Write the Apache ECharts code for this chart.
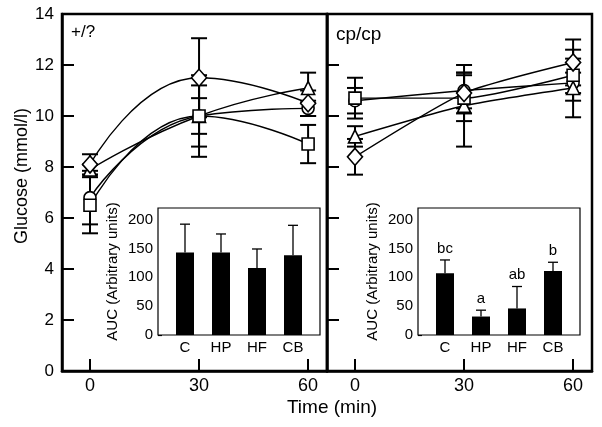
<!DOCTYPE html>
<html>
<head>
<meta charset="utf-8">
<script src="https://cdn.jsdelivr.net/npm/echarts@6/dist/echarts.min.js"></script>
<style>
html, body { margin: 0; padding: 0; background: #fff; }
#chart { width: 602px; height: 427px; }
</style>
</head>
<body>
<div id="chart"></div>
<script>
// time points and ticks
var times = [0, 30, 60];
var timeTicks = [0, 30, 60];

// +/? panel, glucose (mmol/l) and error (SD)
var wtDiamond = [8.1, 11.5, 10.5];
var wtDiamondErr = [0.4, 1.55, 0.5];
var wtSquare = [6.5, 10.0, 8.9];
var wtSquareErr = [1.1, 1.6, 0.75];
var wtTriangle = [7.9, 10.0, 11.1];
var wtTriangleErr = [0.2, 0.7, 0.6];
var wtCircle = [6.8, 10.0, 10.3];
var wtCircleErr = [1.05, 1.2, 0.3];

// cp/cp panel
var cpDiamond = [8.4, 10.9, 12.1];
var cpDiamondErr = [0.7, 0.8, 0.9];
var cpSquare = [10.7, 10.7, 11.6];
var cpSquareErr = [0.8, 0.9, 1.0];
var cpTriangle = [9.2, 10.4, 11.1];
var cpTriangleErr = [0.4, 1.6, 1.15];
var cpCircle = [10.6, 11.0, 11.3];
var cpCircleErr = [0.5, 0.7, 0.4];

// inset bars, AUC (arbitrary units)
var groups = ['C', 'HP', 'HF', 'CB'];
var aucTicks = [0, 50, 100, 150, 200];
var wtAuc = [143, 143, 116, 138];
var wtAucErr = [49, 32, 33, 52];
var cpAuc = [107, 32, 46, 111];
var cpAucErr = [23, 11, 38, 15];
var cpLetters = ['bc', 'a', 'ab', 'b'];

var font = "'Liberation Sans', Arial, Helvetica, sans-serif";
var chart = echarts.init(document.getElementById('chart'));

function pairs(ys) {
	return ys.map(function (v, i) { return [times[i], v]; });
}

function errRows(ys, es) {
	return ys.map(function (v, i) { return [times[i], v - es[i], v + es[i]]; });
}

// error bars with caps on both ends
function renderErr(params, api) {
	var x = api.value(0);
	var lo = api.coord([x, api.value(1)]);
	var hi = api.coord([x, api.value(2)]);
	var w = 8;
	var st = { stroke: '#000', lineWidth: 2 };
	return {
		type: 'group',
		children: [
			{ type: 'line', shape: { x1: lo[0], y1: lo[1], x2: hi[0], y2: hi[1] }, style: st },
			{ type: 'line', shape: { x1: lo[0] - w, y1: lo[1], x2: lo[0] + w, y2: lo[1] }, style: st },
			{ type: 'line', shape: { x1: hi[0] - w, y1: hi[1], x2: hi[0] + w, y2: hi[1] }, style: st }
		]
	};
}

// one-sided error bars for the insets, with optional letters
function makeBarErr(letters) {
	return function (params, api) {
		var x = api.value(0);
		var base = api.coord([x, api.value(1)]);
		var top = api.coord([x, api.value(2)]);
		var st = { stroke: '#000', lineWidth: 1.3 };
		var kids = [
			{ type: 'line', shape: { x1: base[0], y1: base[1], x2: top[0], y2: top[1] }, style: st },
			{ type: 'line', shape: { x1: top[0] - 5, y1: top[1], x2: top[0] + 5, y2: top[1] }, style: st }
		];
		if (letters) {
			kids.push({
				type: 'text',
				style: {
					text: letters[params.dataIndex], x: top[0], y: top[1] - 4,
					align: 'center', verticalAlign: 'bottom',
					fontSize: 15, fontFamily: font, fill: '#000'
				}
			});
		}
		return { type: 'group', children: kids };
	};
}

var shapes = [
	{ symbol: 'diamond', size: [15, 17] },
	{ symbol: 'rect', size: 12 },
	{ symbol: 'triangle', size: 13 },
	{ symbol: 'circle', size: 12 }
];

function lineSeries(ys, shape, idx, smooth) {
	return {
		type: 'line',
		xAxisIndex: idx,
		yAxisIndex: idx,
		data: pairs(ys),
		smooth: smooth,
		symbol: shape.symbol,
		symbolSize: shape.size,
		showSymbol: true,
		z: 3,
		lineStyle: { color: '#000', width: 1.4 },
		itemStyle: { color: '#fff', borderColor: '#000', borderWidth: 1.6 }
	};
}

function errSeries(rows, idx) {
	return {
		type: 'custom',
		xAxisIndex: idx,
		yAxisIndex: idx,
		renderItem: renderErr,
		encode: { x: 0, y: [1, 2] },
		data: rows,
		z: 2,
		silent: true
	};
}

var mainX = function (grid) {
	return {
		type: 'value', gridIndex: grid, min: -7.7, max: 65.2,
		axisLine: { onZero: false, lineStyle: { color: '#000', width: 2.5 } },
		axisTick: { inside: true, length: 12, lineStyle: { color: '#000', width: 2 }, customValues: timeTicks },
		axisLabel: { color: '#000', fontSize: 18, fontFamily: font, margin: 6, customValues: timeTicks },
		splitLine: { show: false }
	};
};

var mainY = function (grid, labels) {
	return {
		type: 'value', gridIndex: grid, min: 0, max: 14, interval: 2,
		axisLine: { show: true, onZero: false, lineStyle: { color: '#000', width: 2.5 } },
		axisTick: { inside: true, length: 12, lineStyle: { color: '#000', width: 2 } },
		axisLabel: { show: labels, color: '#000', fontSize: 17, fontFamily: font, margin: 8 },
		splitLine: { show: false }
	};
};

var insetX = function (grid) {
	return {
		type: 'value', gridIndex: grid, min: -0.75, max: 3.75,
		axisLine: { show: false, onZero: false },
		axisTick: { show: false },
		axisLabel: {
			color: '#000', fontSize: 15, fontFamily: font, margin: 5,
			customValues: [0, 1, 2, 3],
			formatter: function (v) { return groups[Math.round(v)]; }
		},
		splitLine: { show: false }
	};
};

var insetY = function (grid) {
	return {
		type: 'value', gridIndex: grid, min: 0, max: 220,
		name: 'AUC (Arbitrary units)',
		nameLocation: 'middle', nameGap: 38,
		nameTextStyle: { color: '#000', fontSize: 15, fontFamily: font },
		axisLine: { show: false, onZero: false },
		axisTick: { inside: true, length: 4, lineStyle: { color: '#000', width: 1.2 }, customValues: aucTicks },
		axisLabel: { color: '#000', fontSize: 15, fontFamily: font, margin: 5, customValues: aucTicks },
		splitLine: { show: false }
	};
};

function barSeries(vals, idx) {
	return {
		type: 'bar', xAxisIndex: idx, yAxisIndex: idx,
		data: vals.map(function (v, i) { return [i, v]; }),
		barWidth: 18,
		itemStyle: { color: '#000' },
		z: 5
	};
}

function barErrSeries(vals, errs, idx, letters) {
	return {
		type: 'custom', xAxisIndex: idx, yAxisIndex: idx,
		renderItem: makeBarErr(letters),
		encode: { x: 0, y: [1, 2] },
		data: vals.map(function (v, i) { return [i, v, v + errs[i]]; }),
		z: 6,
		silent: true
	};
}

var option = {
	animation: false,
	backgroundColor: '#fff',
	grid: [
		{ left: 62, top: 14, width: 265, height: 357, show: true, borderColor: '#000', borderWidth: 2.5, backgroundColor: '#fff' },
		{ left: 327, top: 14, width: 265, height: 357, show: true, borderColor: '#000', borderWidth: 2.5, backgroundColor: '#fff' },
		{ left: 158, top: 208, width: 162, height: 127, show: true, borderColor: '#000', borderWidth: 1.2, backgroundColor: '#fff', z: 4 },
		{ left: 418, top: 208, width: 162, height: 127, show: true, borderColor: '#000', borderWidth: 1.2, backgroundColor: '#fff', z: 4 }
	],
	xAxis: [mainX(0), mainX(1), insetX(2), insetX(3)],
	yAxis: [mainY(0, true), mainY(1, false), insetY(2), insetY(3)],
	graphic: [
		{ type: 'text', left: 71, top: 24, style: { text: '+/?', fontSize: 17, fontFamily: font, fill: '#000' } },
		{ type: 'text', left: 336, top: 25, style: { text: 'cp/cp', fontSize: 19, fontFamily: font, fill: '#000' } },
		{ type: 'text', x: 332, y: 408, style: { text: 'Time (min)', fontSize: 19, fontFamily: font, fill: '#000', align: 'center', verticalAlign: 'middle' } },
		{ type: 'text', x: 22, y: 176, rotation: Math.PI / 2, style: { text: 'Glucose (mmol/l)', fontSize: 18, fontFamily: font, fill: '#000', align: 'center', verticalAlign: 'middle' } }
	],
	series: [
		errSeries(errRows(wtDiamond, wtDiamondErr), 0),
		errSeries(errRows(wtSquare, wtSquareErr), 0),
		errSeries(errRows(wtTriangle, wtTriangleErr), 0),
		errSeries(errRows(wtCircle, wtCircleErr), 0),
		lineSeries(wtCircle, shapes[3], 0, true),
		lineSeries(wtTriangle, shapes[2], 0, true),
		lineSeries(wtSquare, shapes[1], 0, true),
		lineSeries(wtDiamond, shapes[0], 0, true),

		errSeries(errRows(cpDiamond, cpDiamondErr), 1),
		errSeries(errRows(cpSquare, cpSquareErr), 1),
		errSeries(errRows(cpTriangle, cpTriangleErr), 1),
		errSeries(errRows(cpCircle, cpCircleErr), 1),
		lineSeries(cpCircle, shapes[3], 1, 0.2),
		lineSeries(cpTriangle, shapes[2], 1, 0.2),
		lineSeries(cpSquare, shapes[1], 1, 0.2),
		lineSeries(cpDiamond, shapes[0], 1, 0.2),

		barSeries(wtAuc, 2),
		barErrSeries(wtAuc, wtAucErr, 2, null),
		barSeries(cpAuc, 3),
		barErrSeries(cpAuc, cpAucErr, 3, cpLetters)
	]
};

chart.setOption(option);
</script>
</body>
</html>
